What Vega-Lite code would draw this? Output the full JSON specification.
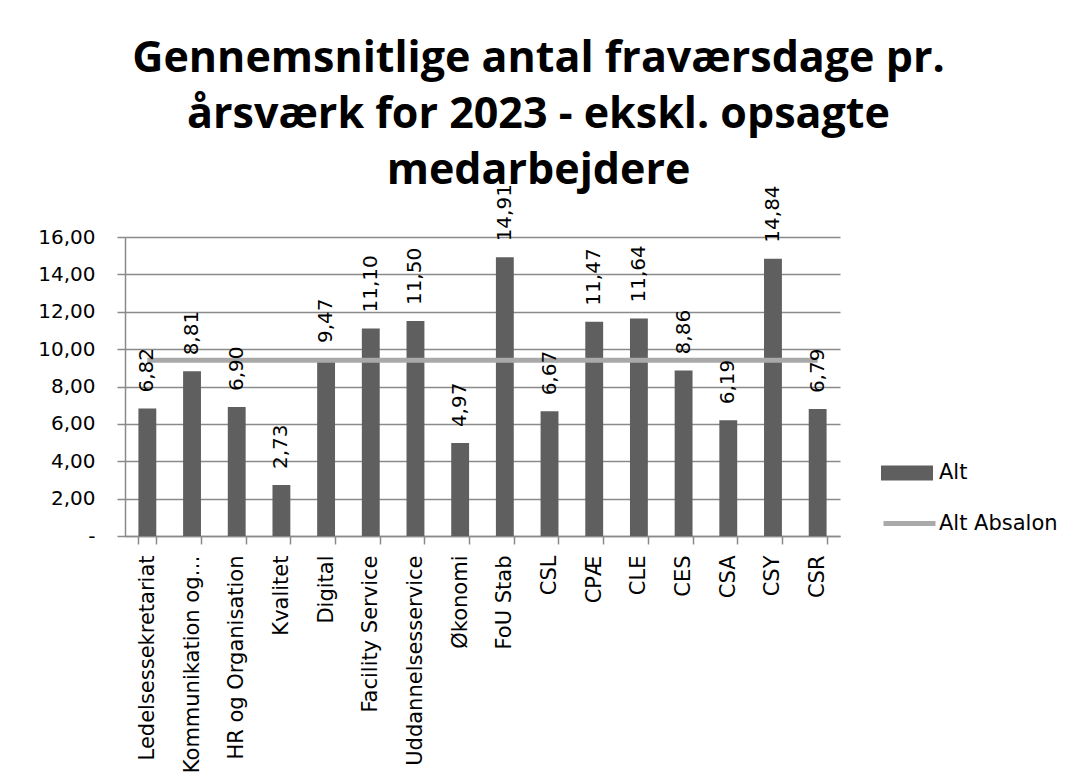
{
  "$schema": "https://vega.github.io/schema/vega-lite/v6.json",
  "autosize": {"type": "none"},
  "width": 715,
  "height": 299,
  "padding": {"left": 125, "top": 237, "right": 243, "bottom": 247},
  "background": "white",
  "title": {
    "text": ["Gennemsnitlige antal fraværsdage pr.", "årsværk for 2023 - ekskl. opsagte", "medarbejdere"],
    "font": "Open Sans",
    "fontSize": 43,
    "fontWeight": "bold",
    "color": "black",
    "lineHeight": 56,
    "anchor": "middle",
    "frame": "group",
    "dx": 56,
    "offset": -9
  },
  "config": {
    "locale": {"number": {"decimal": ",", "thousands": ".", "grouping": [3], "currency": ["", " kr."]}},
    "numberFormat": ".2f",
    "view": {"stroke": null},
    "axis": {"labelColor": "black", "domainColor": "#8a8a8a", "tickColor": "#8a8a8a", "gridColor": "#8a8a8a", "domainWidth": 1.5, "tickWidth": 1.5, "gridWidth": 1.5, "labelOverlap": false},
    "axisY": {
      "tickCount": 8,
      "labelExpr": "datum.value == 0 ? '-' : datum.label",
      "labelFont": "DejaVu Sans",
      "labelFontSize": 20,
      "labelPadding": 22,
      "tickSize": 8,
      "grid": true
    },
    "axisX": {
      "labelAngle": -90,
      "labelFont": "DejaVu Sans",
      "labelFontSize": 21,
      "labelLimit": 400,
      "labelPadding": 11,
      "tickSize": 8,
      "tickBand": "extent",
      "grid": false
    }
  },
  "data": {
    "values": [
      {"afdeling": "Ledelsessekretariat", "alt": 6.82, "absalon": 9.40},
      {"afdeling": "Kommunikation og…", "alt": 8.81, "absalon": 9.40},
      {"afdeling": "HR og Organisation", "alt": 6.90, "absalon": 9.40},
      {"afdeling": "Kvalitet", "alt": 2.73, "absalon": 9.40},
      {"afdeling": "Digital", "alt": 9.47, "absalon": 9.40},
      {"afdeling": "Facility Service", "alt": 11.10, "absalon": 9.40},
      {"afdeling": "Uddannelsesservice", "alt": 11.50, "absalon": 9.40},
      {"afdeling": "Økonomi", "alt": 4.97, "absalon": 9.40},
      {"afdeling": "FoU Stab", "alt": 14.91, "absalon": 9.40},
      {"afdeling": "CSL", "alt": 6.67, "absalon": 9.40},
      {"afdeling": "CPÆ", "alt": 11.47, "absalon": 9.40},
      {"afdeling": "CLE", "alt": 11.64, "absalon": 9.40},
      {"afdeling": "CES", "alt": 8.86, "absalon": 9.40},
      {"afdeling": "CSA", "alt": 6.19, "absalon": 9.40},
      {"afdeling": "CSY", "alt": 14.84, "absalon": 9.40},
      {"afdeling": "CSR", "alt": 6.79, "absalon": 9.40}
    ]
  },
  "encoding": {
    "x": {
      "field": "afdeling",
      "type": "nominal",
      "sort": null,
      "title": null,
      "scale": {"paddingInner": 0.6, "paddingOuter": 0.3}
    }
  },
  "layer": [
    {
      "mark": {"type": "bar"},
      "encoding": {
        "y": {
          "field": "alt",
          "type": "quantitative",
          "title": null,
          "scale": {"domain": [0, 16]}
        },
        "fill": {
          "datum": "Alt",
          "type": "nominal",
          "scale": {"range": ["#5f5f5f"]},
          "legend": {
            "title": null,
            "orient": "none",
            "legendX": 756,
            "legendY": 210,
            "padding": 0,
            "symbolType": "M-1,-0.29H1V0.29H-1Z",
            "symbolSize": 2704,
            "symbolStrokeWidth": 0,
            "labelFont": "DejaVu Sans",
            "labelFontSize": 21,
            "labelColor": "black",
            "labelOffset": 6
          }
        }
      }
    },
    {
      "mark": {"type": "line", "strokeWidth": 5},
      "encoding": {
        "y": {"field": "absalon", "type": "quantitative", "title": null},
        "stroke": {
          "datum": "Alt Absalon",
          "type": "nominal",
          "scale": {"range": ["#a9a9a9"]},
          "legend": {
            "title": null,
            "orient": "none",
            "legendX": 756,
            "legendY": 258,
            "padding": 0,
            "symbolType": "stroke",
            "symbolSize": 2704,
            "symbolStrokeWidth": 5,
            "labelFont": "DejaVu Sans",
            "labelFontSize": 21,
            "labelColor": "black",
            "labelOffset": 1
          }
        }
      }
    },
    {
      "mark": {"type": "text", "angle": -90, "align": "left", "baseline": "middle", "dx": 16, "font": "DejaVu Sans", "fontSize": 20, "color": "black"},
      "encoding": {
        "y": {"field": "alt", "type": "quantitative", "title": null},
        "text": {"field": "alt", "type": "quantitative", "format": ".2f"}
      }
    }
  ]
}
